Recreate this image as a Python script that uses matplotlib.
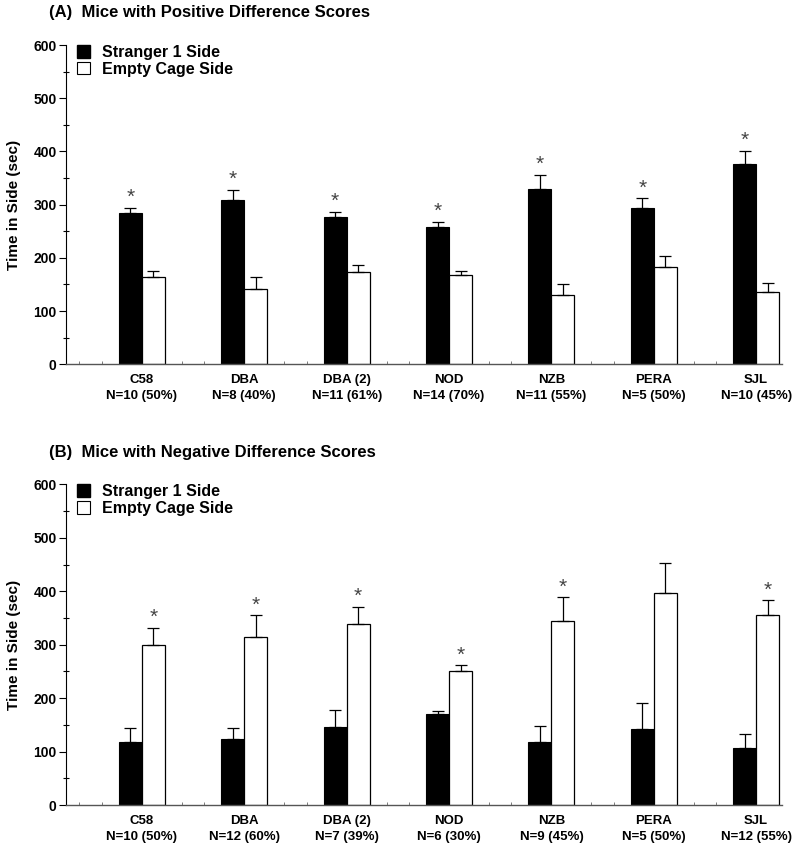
import matplotlib
matplotlib.use("Agg")
import matplotlib.pyplot as plt
import numpy as np
from matplotlib.patches import Patch

plt.rcParams['font.family'] = ['Liberation Sans', 'DejaVu Sans']

strains = ["C58", "DBA", "DBA (2)", "NOD", "NZB", "PERA", "SJL"]
n_pos = ["N=10 (50%)", "N=8 (40%)", "N=11 (61%)", "N=14 (70%)", "N=11 (55%)", "N=5 (50%)", "N=10 (45%)"]
n_neg = ["N=10 (50%)", "N=12 (60%)", "N=7 (39%)", "N=6 (30%)", "N=9 (45%)", "N=5 (50%)", "N=12 (55%)"]

# Panel A
pos_stranger = [285, 309, 276, 258, 329, 293, 376]
pos_stranger_err = [9, 19, 11, 10, 27, 19, 25]
pos_empty = [165, 141, 174, 167, 131, 182, 135]
pos_empty_err = [10, 24, 13, 9, 20, 22, 17]
pos_star = ["stranger"] * 7

# Panel B
neg_stranger = [118, 123, 146, 170, 117, 142, 107]
neg_stranger_err = [27, 21, 31, 5, 30, 49, 25]
neg_empty = [300, 314, 339, 250, 344, 396, 355]
neg_empty_err = [32, 41, 32, 12, 45, 57, 28]
neg_star = ["empty", "empty", "empty", "empty", "empty", None, "empty"]

titles = ["(A)  Mice with Positive Difference Scores", "(B)  Mice with Negative Difference Scores"]

fig = plt.figure(figsize=(8, 8.5), dpi=100)
axA = fig.add_axes([0.0821, 0.5714, 0.8959, 0.3756])
axB = fig.add_axes([0.0821, 0.0529, 0.8959, 0.3773])

w = 0.225
x = np.arange(len(strains))

def draw(ax, s, se, e, ee, stars, ncounts, title, title_y):
    ax.bar(x - w / 2, s, w, color='black', edgecolor='black', linewidth=0.8, zorder=2)
    ax.bar(x + w / 2, e, w, color='white', edgecolor='black', linewidth=0.9, zorder=2)
    ax.errorbar(x - w / 2, s, yerr=[np.zeros(len(s)), se], fmt='none', ecolor='black',
                elinewidth=0.9, capsize=4.5, capthick=0.9, zorder=3)
    ax.errorbar(x + w / 2, e, yerr=[np.zeros(len(e)), ee], fmt='none', ecolor='black',
                elinewidth=0.9, capsize=4.5, capthick=0.9, zorder=3)
    for i, st in enumerate(stars):
        if st == "stranger":
            ax.text(x[i] - w / 2, s[i] + se[i] + 19, "*", ha='center', va='center',
                    fontsize=15, color='#444444')
        elif st == "empty":
            ax.text(x[i] + w / 2, e[i] + ee[i] + 19, "*", ha='center', va='center',
                    fontsize=15, color='#444444')
    ax.set_xlim(-0.745, 6.257)
    ax.set_ylim(0, 600)
    ax.set_yticks(np.arange(0, 601, 100))
    ax.set_yticks(np.arange(50, 600, 100), minor=True)
    ax.set_yticklabels([str(v) for v in range(0, 601, 100)], fontsize=10, fontweight='bold')
    ax.tick_params(axis='y', which='major', direction='out', length=5, width=0.8, pad=1.5)
    ax.tick_params(axis='y', which='minor', direction='inout', length=5, width=0.8)
    ax.set_xticks(x)
    ax.set_xticklabels([f"{a}\n{b}" for a, b in zip(strains, ncounts)], fontsize=9.5,
                       fontweight='bold', linespacing=1.45)
    ax.tick_params(axis='x', which='major', length=0, pad=7)
    mt = np.concatenate([np.arange(-0.5, 6.6, 1) - 0.11, np.arange(-0.5, 6.6, 1) + 0.11])
    mt = mt[(mt > -0.745) & (mt < 6.257)]
    ax.set_xticks(mt, minor=True)
    ax.tick_params(axis='x', which='minor', direction='in', length=2, width=0.6, color='#666666')
    ax.spines['top'].set_visible(False)
    ax.spines['right'].set_visible(False)
    ax.spines['left'].set_linewidth(0.8)
    ax.spines['bottom'].set_linewidth(1.0)
    ax.spines['bottom'].set_color('#555555')
    ax.set_ylabel("Time in Side (sec)", fontsize=11, fontweight='bold', labelpad=9)
    handles = [Patch(facecolor='black', edgecolor='black', label='Stranger 1 Side'),
               Patch(facecolor='white', edgecolor='black', linewidth=0.8, label='Empty Cage Side')]
    ax.legend(handles=handles, loc='upper left', bbox_to_anchor=(0.0, 1.035), frameon=False,
              prop={'weight': 'bold', 'size': 11.5}, handlelength=0.85, handleheight=0.85,
              handletextpad=0.75, labelspacing=0.1, borderaxespad=0.3)
    fig.text(49 / 800, title_y, title, fontsize=12, fontweight='bold', va='center', ha='left')

draw(axA, pos_stranger, pos_stranger_err, pos_empty, pos_empty_err, pos_star, n_pos, titles[0], 1 - 12 / 850)
draw(axB, neg_stranger, neg_stranger_err, neg_empty, neg_empty_err, neg_star, n_neg, titles[1], 1 - 452 / 850)

fig.savefig("out.png", dpi=100)
